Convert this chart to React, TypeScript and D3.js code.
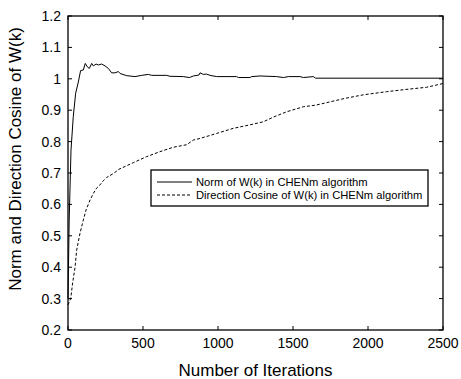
import React from "react";
import * as d3 from "d3";

const normIter = [0, 8, 20, 35, 51, 69, 84, 102, 115, 129, 142, 158, 169, 187, 202, 224, 247, 269, 291, 313, 336, 347, 391, 447, 491, 536, 558, 658, 680, 769, 809, 836, 873, 880, 902, 924, 947, 991, 1124, 1136, 1213, 1224, 1280, 1391, 1436, 1469, 1547, 1569, 1636, 1650, 2500];
const normVal = [0.3, 0.55, 0.773, 0.879, 0.954, 0.99, 1.026, 1.028, 1.049, 1.038, 1.033, 1.049, 1.041, 1.047, 1.044, 1.047, 1.041, 1.033, 1.019, 1.019, 1.023, 1.017, 1.01, 1.007, 1.011, 1.014, 1.011, 1.011, 1.008, 1.007, 1.004, 1.009, 1.012, 1.019, 1.014, 1.015, 1.011, 1.007, 1.007, 1.004, 1.004, 1.007, 1.009, 1.007, 1.004, 1.007, 1.007, 1.004, 1.007, 1.002, 1.002];

const cosIter = [0, 18, 31, 47, 58, 80, 102, 120, 147, 169, 191, 213, 235, 258, 302, 340, 436, 524, 613, 702, 791, 836, 880, 991, 1100, 1200, 1302, 1369, 1458, 1569, 1650, 1724, 1850, 1969, 2124, 2250, 2391, 2500];
const cosVal = [0.28, 0.3, 0.35, 0.4, 0.455, 0.508, 0.55, 0.582, 0.614, 0.635, 0.652, 0.662, 0.675, 0.686, 0.698, 0.712, 0.733, 0.752, 0.768, 0.782, 0.79, 0.805, 0.81, 0.826, 0.842, 0.852, 0.863, 0.878, 0.895, 0.911, 0.916, 0.924, 0.938, 0.949, 0.959, 0.966, 0.973, 0.985];

const xTicks = [0, 500, 1000, 1500, 2000, 2500];
const yTicks = [0.2, 0.3, 0.4, 0.5, 0.6, 0.7, 0.8, 0.9, 1, 1.1, 1.2];
const legendLabels = ["Norm of W(k) in CHENm algorithm", "Direction Cosine of W(k) in CHENm algorithm"];

const W = 461, H = 379;
const L = 68, R = 443, T = 16, B = 330;
const FONT = "'Liberation Sans', Arial, Helvetica, sans-serif";

export default function App() {
  const x = d3.scaleLinear().domain([0, 2500]).range([L, R]);
  const y = d3.scaleLinear().domain([0.2, 1.2]).range([B, T]);
  const line = d3.line<[number, number]>().x(d => x(d[0])).y(d => y(d[1]));
  const normPts = normIter.map((k, i) => [k, normVal[i]] as [number, number]);
  const cosPts = cosIter.map((k, i) => [k, cosVal[i]] as [number, number]);
  const tl = 4;
  return (
    <svg width={W} height={H} style={{ position: "absolute", left: 0, top: 0, background: "#fff" }} fontFamily={FONT}>
      <rect x={0} y={0} width={W} height={H} fill="#fff" />
      <path d={line(cosPts) || ""} fill="none" stroke="#000" strokeWidth={1} strokeDasharray="3,2" />
      <path d={line(normPts) || ""} fill="none" stroke="#000" strokeWidth={1} />
      <rect x={L} y={T} width={R - L} height={B - T} fill="none" stroke="#000" strokeWidth={1.3} />
      {xTicks.map(t => (
        <g key={"x" + t}>
          <line x1={x(t)} x2={x(t)} y1={B} y2={B - tl} stroke="#000" />
          <line x1={x(t)} x2={x(t)} y1={T} y2={T + tl} stroke="#000" />
          <text x={x(t)} y={348} fontSize={14} textAnchor="middle" fill="#000">{t}</text>
        </g>
      ))}
      {yTicks.map(t => (
        <g key={"y" + t}>
          <line x1={L} x2={L + tl} y1={y(t)} y2={y(t)} stroke="#000" />
          <line x1={R} x2={R - tl} y1={y(t)} y2={y(t)} stroke="#000" />
          <text x={61} y={y(t) + 5} fontSize={14} textAnchor="end" fill="#000">{d3.format("")(+t.toFixed(1))}</text>
        </g>
      ))}
      <text x={(L + R) / 2} y={376} fontSize={17} textAnchor="middle" fill="#000">Number of Iterations</text>
      <text transform={`translate(21,159) rotate(-90)`} fontSize={17} textAnchor="middle" fill="#000">Norm and Direction Cosine of W(k)</text>
      <rect x={151} y={170} width={277} height={36} fill="#fff" stroke="#000" strokeWidth={1.3} />
      <line x1={157} x2={192} y1={182} y2={182} stroke="#000" strokeWidth={1} />
      <line x1={157} x2={192} y1={195} y2={195} stroke="#000" strokeWidth={1} strokeDasharray="3,2" />
      <text x={196} y={186} fontSize={11.2} fill="#000">{legendLabels[0]}</text>
      <text x={196} y={199} fontSize={11.2} fill="#000">{legendLabels[1]}</text>
    </svg>
  );
}
